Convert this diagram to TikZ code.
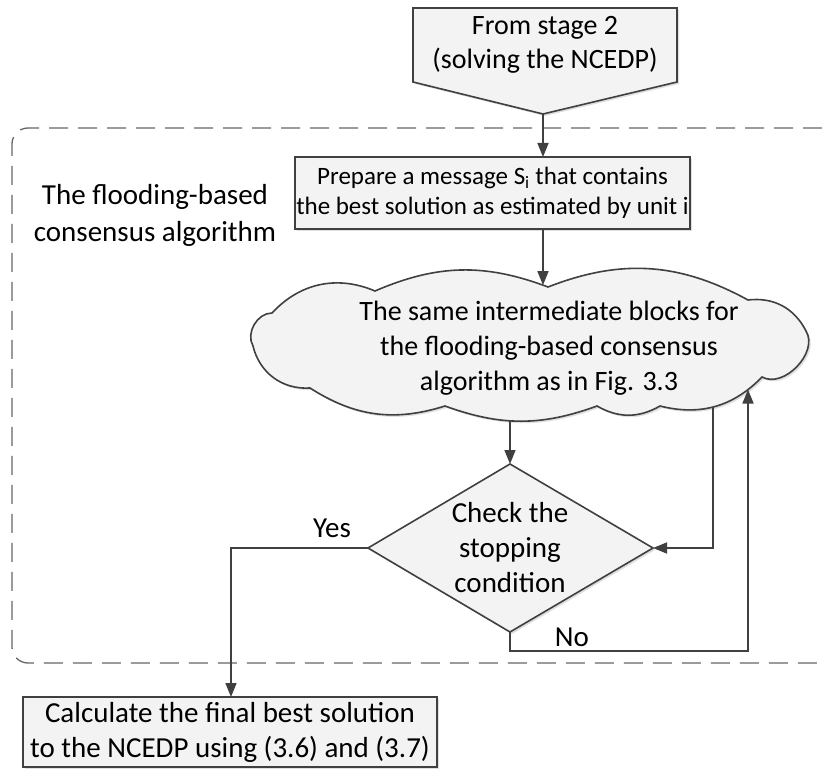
\documentclass[tikz,border=0pt]{standalone}
\usepackage{fontspec}
\setmainfont{Carlito}
\usetikzlibrary{arrows.meta,shadows,intersections}
\definecolor{ln}{HTML}{404040}
\definecolor{bx}{HTML}{F3F3F3}
\tikzset{
  txt/.style={align=center, font=\fontsize{29}{35}\selectfont, text=black, inner sep=0pt},
  smalltxt/.style={txt, font=\fontsize{25}{30}\selectfont},
  shp/.style={draw=ln, line width=1.6pt, fill=bx,
    drop shadow={shadow xshift=2pt, shadow yshift=-2pt, opacity=0.25}},
  flow/.style={draw=ln, line width=1.6pt},
  conn/.style={flow, -{Triangle[length=14pt,width=11pt]}},
  frame/.style={draw=ln!80, line width=1.3pt, dash pattern=on 19pt off 10pt, rounded corners=16pt}
}
\begin{document}
\begin{tikzpicture}[x=1pt,y=-1pt]
\useasboundingbox (0,0) rectangle (822,770);

% dashed region of the consensus stage
\draw[frame] (822,128) -- (12,128) -- (12,663) -- (822,663);
\node[txt] (grp) at (155,215) {The flooding-based\\[2pt]consensus algorithm};

% off-page connector
\path[shp] (413,8) -- (677,8) -- (677,82) -- (543,114) -- (413,82) -- cycle;
\node[txt, font=\fontsize{28}{34}\selectfont] (src) at (545,45) {From stage 2\\(solving the NCEDP)};
\coordinate (srctip) at (543,114);

% message preparation
\path[shp] (295,157) rectangle (690,229);
\node[smalltxt] (prep) at (492.5,193)
  {Prepare a message S\textsubscript{i} that contains\\the best solution as estimated by unit i};
\coordinate (prepN) at (543,157);
\coordinate (prepS) at (543,229);

% intermediate blocks (cloud outline)
\path[shp, name path=cloudp] (253,346)
  to[bend left=60] (272,313)
  to[bend left=35] (375,291)
  to[bend left=22] (548,287)
  to[bend left=25] (748,300)
  to[bend left=35] (806,331)
  to[bend left=75] (762,377)
  to[bend left=30] (660,406)
  to[bend left=30] (597,406)
  to[bend left=20] (445,406)
  to[bend left=25] (310,388)
  to[bend left=40] (253,346) -- cycle;
\node[txt, font=\fontsize{28}{35}\selectfont] (cloudtxt) at (549,348)
  {The same intermediate blocks for\\the flooding-based consensus\\algorithm as in Fig. 3.3};

% connector end points on the cloud outline
\path[name path=vin] (543,240) -- (543,330);
\path[name path=vout] (510,360) -- (510,450);
\path[name path=vside] (713,360) -- (713,450);
\path[name path=vret] (748,360) -- (748,450);
\path[name intersections={of=cloudp and vin, by=cin}];
\path[name intersections={of=cloudp and vout, by=cout}];
\path[name intersections={of=cloudp and vside, by=cside}];
\path[name intersections={of=cloudp and vret, by=cret}];

% stopping test
\path[shp] (510,464) -- (653,548) -- (510,632) -- (368,548) -- cycle;
\coordinate (chkN) at (510,464);
\coordinate (chkE) at (653,548);
\coordinate (chkS) at (510,632);
\coordinate (chkW) at (368,548);
\node[txt] (chk) at (510,548) {Check the\\stopping\\condition};

% final computation
\path[shp] (23,697) rectangle (437,767);
\node[txt] (fin) at (230,732)
  {Calculate the final best solution\\to the NCEDP using (3.6) and (3.7)};
\coordinate (finN) at (231,697);

\draw[conn] (srctip) -- (prepN);
\draw[conn] (prepS) -- (cin);
\draw[conn] (cout) -- (chkN);
\draw[conn] (cside) |- (chkE);
\draw[conn] (chkS) -- (510,651) -| (cret);
\draw[conn] (chkW) -| (finN);

\node[txt] (yes) at (332,528) {Yes};
\node[txt] (no) at (572,637) {No};
\end{tikzpicture}
\end{document}
